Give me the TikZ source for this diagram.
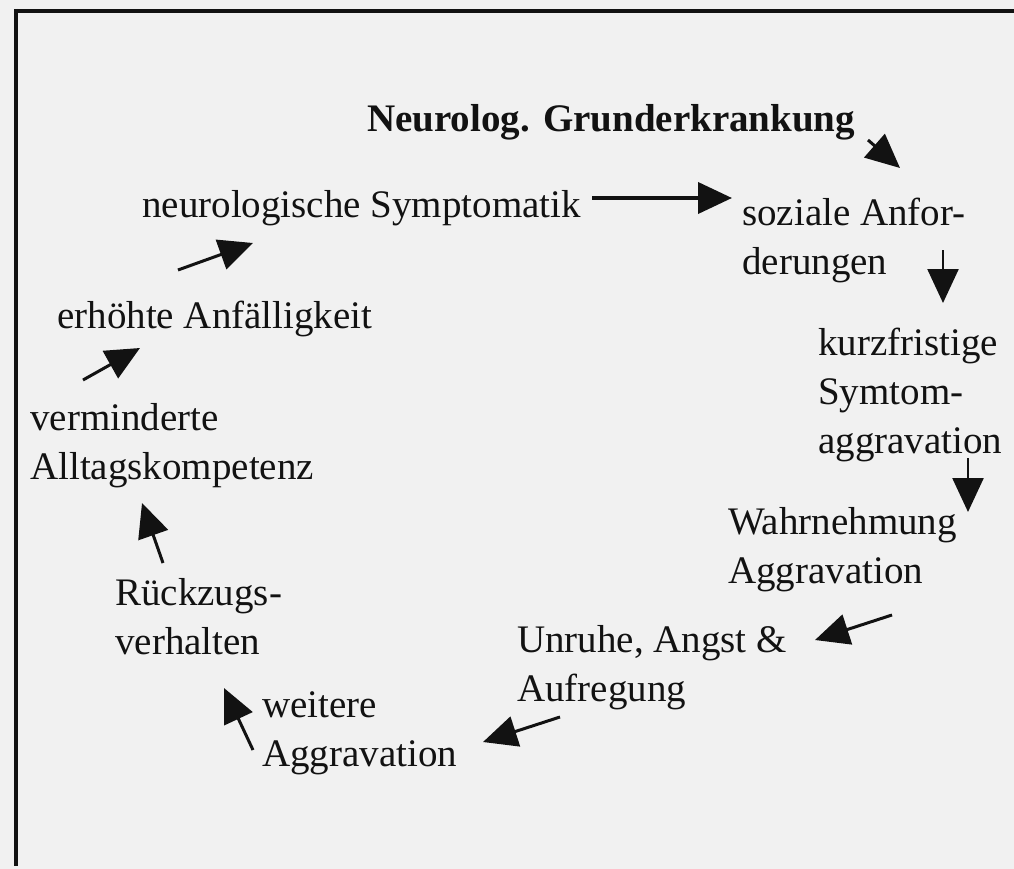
\documentclass[tikz,border=0pt]{standalone}
\usepackage{fontspec}
\setmainfont{Liberation Serif}
\usetikzlibrary{arrows.meta, positioning, calc}
\definecolor{scanpaper}{RGB}{241,241,241}
\definecolor{inkblack}{RGB}{18,18,18}

\begin{document}
\begin{tikzpicture}[x=1pt, y=-1pt,
    stage/.style={anchor=base west, inner sep=0pt, align=left, text=inkblack, font=\fontsize{39}{49}\selectfont},
    headline/.style={stage, font=\fontsize{39}{49}\selectfont\bfseries},
    arrow/.style={-{Triangle[length=34pt, width=31pt]}, line width=3pt, color=inkblack},
    frameline/.style={line width=4pt, color=inkblack}
]
\fill[scanpaper] (0,0) rectangle (1014,869);
\useasboundingbox (0,0) rectangle (1014,869);
\draw[frameline] (14,11) -- (1014,11);
\draw[frameline] (16,9) -- (16,866);
% multi-line nodes sit on the baseline of their last line
\node[headline] (basis) at (367,132) {Neurolog. Grunderkrankung};
\node[stage] (symptom) at (142,218) {neurologische Symptomatik};
\node[stage] (sozial) at (742,274) {soziale Anfor-\\derungen};
\node[stage] (kurz) at (818,453) {kurzfristige\\Symtom-\\aggravation};
\node[stage] (wahrn) at (728,583) {Wahrnehmung\\Aggravation};
\node[stage] (unruhe) at (517,701) {Unruhe, Angst \&\\Aufregung};
\node[stage] (weitere) at (262,766) {weitere\\Aggravation};
\node[stage] (rueckzug) at (115,654) {Rückzugs-\\verhalten};
\node[stage] (alltag) at (30,479) {verminderte\\Alltagskompetenz};
\node[stage] (anfaellig) at (57,328) {erhöhte Anfälligkeit};
\draw[arrow] ($(basis.base west)+(501,8)$) -- ($(sozial.base west)+(158,-106)$);
\draw[arrow, line width=4pt] ($(symptom.base west)+(450,-20)$) -- ($(sozial.base west)+(-10,-76)$);
\draw[arrow, line width=2.5pt] ($(sozial.base west)+(201,-24)$) -- ($(kurz.base west)+(125,-150)$);
\draw[arrow, line width=2.5pt] ($(kurz.base west)+(150,5)$) -- ($(wahrn.base west)+(240,-71)$);
\draw[arrow] ($(wahrn.base west)+(164,32)$) -- ($(unruhe.base west)+(298,-61)$);
\draw[arrow] ($(unruhe.base west)+(43,16)$) -- ($(weitere.base west)+(221,-24)$);
\draw[arrow] ($(weitere.base west)+(-9,-16)$) -- ($(rueckzug.base west)+(109,34)$);
\draw[arrow] ($(rueckzug.base west)+(48,-91)$) -- ($(alltag.base west)+(112,24)$);
\draw[arrow] ($(alltag.base west)+(53,-99)$) -- ($(anfaellig.base west)+(83,20)$);
\draw[arrow] ($(anfaellig.base west)+(121,-58)$) -- ($(symptom.base west)+(111,25)$);
\end{tikzpicture}
\end{document}
